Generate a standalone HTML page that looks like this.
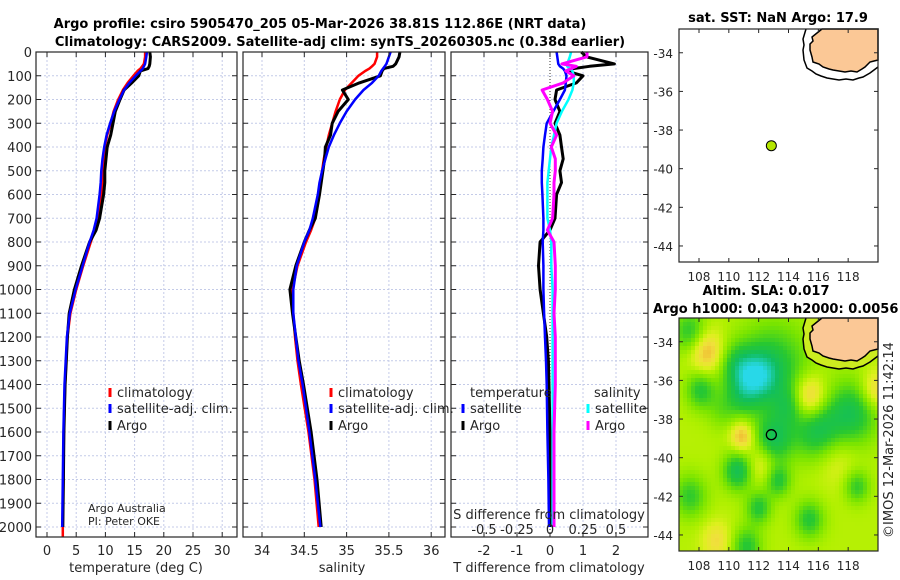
<!DOCTYPE html>
<html><head><meta charset="utf-8"><style>
html,body{margin:0;padding:0;background:#fff;width:900px;height:580px;overflow:hidden}
svg{display:block;font-family:"DejaVu Sans","Liberation Sans",sans-serif}
</style></head><body>
<svg id="c" width="900" height="580" viewBox="0 0 900 580" xmlns="http://www.w3.org/2000/svg"></svg>
<script>
// ---- profile data ----
const depths=[0,20,50,60,70,80,100,130,160,200,250,300,350,400,450,500,550,600,700,750,800,900,1000,1100,1200,1300,1400,1600,1800,2000];
const tempClim=[16.8,16.8,16.6,16.3,16.0,15.5,14.8,13.8,13.0,12.2,11.4,10.9,10.3,9.9,9.7,9.6,9.5,9.3,8.7,8.2,7.5,6.2,5.0,4.0,3.5,3.3,3.1,2.9,2.8,2.7];
const tempSat=[17.1,17.0,16.8,16.6,16.4,16.0,15.2,14.1,13.2,12.4,11.5,10.8,10.2,9.8,9.5,9.3,9.2,9.0,8.5,8.0,7.3,6.1,4.9,3.9,3.4,3.2,3.0,2.8,2.7,2.6];
const tempArgo=[17.6,17.7,17.6,17.5,17.3,16.0,15.7,14.5,13.2,12.5,11.7,11.3,10.9,10.3,10.1,9.9,9.9,9.7,9.0,8.4,7.3,5.9,4.7,3.8,3.5,3.3,3.1,2.9,2.8,2.7];
const salClim=[35.36,35.36,35.33,35.30,35.27,35.22,35.14,35.06,34.98,34.92,34.87,34.83,34.79,34.76,34.73,34.71,34.69,34.68,34.63,34.58,34.52,34.42,34.36,34.37,34.39,34.42,34.46,34.55,34.62,34.67];
const salSat=[35.52,35.50,35.47,35.45,35.43,35.41,35.38,35.30,35.20,35.10,35.00,34.92,34.85,34.79,34.75,34.71,34.68,34.66,34.60,34.56,34.50,34.41,34.37,34.37,34.40,34.43,34.48,34.56,34.63,34.69];
const salArgo=[35.63,35.62,35.58,35.55,35.44,35.42,35.40,35.15,34.95,35.02,34.90,34.83,34.81,34.75,34.74,34.72,34.70,34.68,34.63,34.56,34.50,34.40,34.33,34.36,34.40,34.44,34.49,34.58,34.65,34.70];
const tDiffSat=[0.2,0.22,0.25,0.3,0.4,0.45,0.5,0.48,0.45,0.3,0.1,-0.1,-0.15,-0.2,-0.22,-0.25,-0.25,-0.23,-0.2,-0.2,-0.22,-0.2,-0.2,-0.18,-0.15,-0.12,-0.1,-0.08,-0.05,-0.03];
const tDiffArgo=[0.95,1.1,1.95,1.2,0.7,0.5,1.0,0.8,0.2,0.15,0.3,0.15,0.3,0.35,0.4,0.3,0.35,0.2,0.15,0,-0.3,-0.35,-0.3,-0.2,-0.1,-0.05,-0.03,0,0,0];
const sDiffSat=[0.16,0.15,0.13,0.13,0.15,0.17,0.18,0.18,0.17,0.14,0.09,0.05,0.03,0.01,0,-0.01,-0.02,-0.02,-0.02,0,0.01,0.01,0.02,0.02,0.02,0.02,0.02,0.02,0.02,0.02];
const sDiffArgo=[0.28,0.28,0.09,0.2,0.16,0.12,0.18,0.1,-0.06,-0.02,0.02,0,0.05,0.01,0.04,0.04,0.03,0.03,0.02,-0.02,0.03,0.04,0.04,0.03,0.04,0.04,0.04,0.03,0.03,0.03];
const depthTicks=[0,100,200,300,400,500,600,700,800,900,1000,1100,1200,1300,1400,1500,1600,1700,1800,1900,2000];
const tempTicks=[0,5,10,15,20,25,30];
const salTicks=[34,34.5,35,35.5,36];
const salTickLabels=["34","34.5","35","35.5","36"];
const tDiffTicks=[-2,-1,0,1,2];
const sDiffTicks=[-0.5,-0.25,0,0.25,0.5];
const sDiffTickLabels=["-0.5","-0.25","0","0.25","0.5"];
// ---- map data ----
const argoLon=112.85, argoLat=-38.81;
const lonTicks=[108,110,112,114,116,118];
const latTicks=[-34,-36,-38,-40,-42,-44];
const slaLon=[111.9,113.0,107.4,108.5,115.4,118.3,115.9,113.0,110.9,110.6,113.3,108.1,107.4,115.4,118.6,112.2,109.2,111.2,119.8,112.0,110.5,117.2,110.8,114.0,109.5];
const slaLat=[-35.8,-35.4,-33.5,-34.5,-36.9,-37.7,-38.6,-39.1,-38.9,-40.7,-41.2,-36.5,-42.0,-43.2,-41.5,-40.3,-44.3,-44.6,-36.5,-42.6,-35.2,-40.0,-36.8,-37.3,-37.6];
const slaAmp=[-0.55,-0.55,-0.5,0.5,0.6,-0.6,-0.6,-0.6,0.5,-0.65,-0.5,-0.5,-0.45,-0.5,-0.45,0.3,0.3,-0.5,0.4,-0.5,-0.4,0.2,-0.35,-0.3,-0.2];
const slaSig=[0.9,1.7,0.8,0.8,0.8,1.2,1.1,0.9,0.55,0.7,0.6,0.7,0.8,0.7,0.6,0.7,0.7,0.7,0.7,0.6,0.8,1.0,0.8,0.7,0.7];

const svg=document.getElementById('c');
const NS='http://www.w3.org/2000/svg';
function el(tag,attrs,parent){const e=document.createElementNS(NS,tag);for(const k in attrs)e.setAttribute(k,attrs[k]);(parent||svg).appendChild(e);return e;}
function txt(x,y,s,attrs,parent){const t=el('text',Object.assign({x:x,y:y,'font-size':12,fill:'#262626'},attrs||{}),parent);t.textContent=s;return t;}

const Y0=52, YB=537;
function yD(d){return Y0+d*0.2375;}

function panel(name){
  const g=el('g',{});
  
  
  return g;
}
function grid(g,x0,x1,xs){
  xs.forEach(x=>{const l=el('line',{x1:x,x2:x,y1:Y0,y2:YB,stroke:'#c4cbe8','stroke-width':1,'stroke-dasharray':'2,2'},g);
    });
  depthTicks.forEach(d=>{const y=yD(d);const l=el('line',{x1:x0,x2:x1,y1:y,y2:y,stroke:'#c4cbe8','stroke-width':1,'stroke-dasharray':'2,2'},g);
    });
}
function frame(g,x0,x1,xs){
  depthTicks.forEach(d=>{const y=yD(d);
    el('line',{x1:x0,x2:x0+5,y1:y,y2:y,stroke:'#262626'},g);
    el('line',{x1:x1-5,x2:x1,y1:y,y2:y,stroke:'#262626'},g);});
  xs.forEach(x=>{el('line',{x1:x,x2:x,y1:YB,y2:YB-5,stroke:'#262626'},g);el('line',{x1:x,x2:x,y1:Y0,y2:Y0+5,stroke:'#262626'},g);});
  const r=el('rect',{x:x0,y:Y0,width:x1-x0,height:YB-Y0,fill:'none',stroke:'#262626','stroke-width':1.2},g);
  
}
function line(g,vals,xf,color,w,name,last){
  let d='';vals.forEach((v,i)=>{d+=(i?'L':'M')+xf(v).toFixed(1)+','+yD(depths[i]).toFixed(1);});
  if(last!==undefined) d+='L'+xf(vals[vals.length-1]).toFixed(1)+','+yD(last).toFixed(1);
  const p=el('path',{d:d,fill:'none',stroke:color,'stroke-width':w,'stroke-linejoin':'round'},g);
  
}
function legendItem(g,x,y,color,label,name){
  const m=el('line',{x1:x,x2:x,y1:y-9,y2:y,stroke:color,'stroke-width':3},g);
  
  const t=txt(x+7,y,label,{'font-size':13},g);
  
}

let t=txt(320,28,'Argo profile: csiro 5905470_205 05-Mar-2026 38.81S 112.86E (NRT data)',{'font-size':13,'font-weight':'bold','text-anchor':'middle',fill:'#000'});

t=txt(340,46,'Climatology: CARS2009. Satellite-adj clim: synTS_20260305.nc (0.38d earlier)',{'font-size':13,'font-weight':'bold','text-anchor':'middle',fill:'#000'});


// ---- Panel 1 ----
const P1x0=36,P1x1=237;
function xT(v){return 47+v*5.84;}
let g1=panel('temperature-panel');
const xs1=tempTicks.map(xT);
grid(g1,P1x0,P1x1,xs1);
line(g1,tempClim,xT,'#ff0000',2.5,'temperature-climatology-line',2040);
line(g1,tempArgo,xT,'#000000',3,'temperature-argo-line');
line(g1,tempSat,xT,'#0000ff',2.5,'temperature-satellite-line');
frame(g1,P1x0,P1x1,xs1);
depthTicks.forEach(d=>{const l=txt(32,yD(d)+5,String(d),{'text-anchor':'end','font-size':13},g1);
  });
tempTicks.forEach(v=>{const l=txt(xT(v),555,String(v),{'text-anchor':'middle','font-size':13},g1);
  });
t=txt(136,572,'temperature (deg C)',{'text-anchor':'middle','font-size':13},g1);
legendItem(g1,110,397,'#ff0000','climatology','legend-climatology');
legendItem(g1,110,413,'#0000ff','satellite-adj. clim.','legend-satellite-adj');
legendItem(g1,110,430,'#000000','Argo','legend-argo');
t=txt(88,512,'Argo Australia',{'font-size':11},g1);
t=txt(88,525,'PI: Peter OKE',{'font-size':11},g1);

// ---- Panel 2 ----
const P2x0=243,P2x1=445;
function xS(v){return 262+(v-34)*84.6;}
let g2=panel('salinity-panel');
const xs2=salTicks.map(xS);
grid(g2,P2x0,P2x1,xs2);
line(g2,salClim,xS,'#ff0000',2.5,'salinity-climatology-line');
line(g2,salArgo,xS,'#000000',3,'salinity-argo-line');
line(g2,salSat,xS,'#0000ff',2.5,'salinity-satellite-line');
frame(g2,P2x0,P2x1,xs2);
salTicks.forEach((v,i)=>{const l=txt(xS(v),555,salTickLabels[i],{'text-anchor':'middle','font-size':13},g2);
  });
t=txt(342,572,'salinity',{'text-anchor':'middle','font-size':13},g2);
legendItem(g2,331,397,'#ff0000','climatology','legend-climatology');
legendItem(g2,331,413,'#0000ff','satellite-adj. clim.','legend-satellite-adj');
legendItem(g2,331,430,'#000000','Argo','legend-argo');

// ---- Panel 3 ----
const P3x0=451,P3x1=648;
function xDT(v){return 550+v*33;}
function xDS(v){return 550+v*4*33;}
let g3=panel('difference-panel');
const xs3=tDiffTicks.filter(v=>v!==0).map(xDT);
grid(g3,P3x0,P3x1,xs3);
let z=el('line',{x1:xDT(0),x2:xDT(0),y1:Y0,y2:YB,stroke:'#333','stroke-width':1,'stroke-dasharray':'1,2'},g3);

line(g3,tDiffArgo,xDT,'#000000',3,'t-diff-argo-line');
line(g3,tDiffSat,xDT,'#0000ff',2.5,'t-diff-satellite-line');
line(g3,sDiffSat,xDS,'#00ffff',2.5,'s-diff-satellite-line');
line(g3,sDiffArgo,xDS,'#ff00ff',3,'s-diff-argo-line');
frame(g3,P3x0,P3x1,tDiffTicks.map(xDT));
tDiffTicks.forEach(v=>{const l=txt(xDT(v),555,String(v),{'text-anchor':'middle','font-size':13},g3);
  });
sDiffTicks.forEach((v,i)=>{const l=txt(xDS(v),534,sDiffTickLabels[i],{'text-anchor':'middle','font-size':13},g3);
  });
t=txt(549,519,'S difference from climatology',{'text-anchor':'middle','font-size':13},g3);
t=txt(549,572,'T difference from climatology',{'text-anchor':'middle','font-size':13},g3);
t=txt(470,397,'temperature',{'font-size':13},g3);
t=txt(594,397,'salinity',{'font-size':13},g3);
legendItem(g3,463,413,'#0000ff','satellite','legend-t-satellite');
legendItem(g3,463,430,'#000000','Argo','legend-t-argo');
legendItem(g3,588,413,'#00ffff','satellite','legend-s-satellite');
legendItem(g3,588,430,'#ff00ff','Argo','legend-s-argo');

// ---- Maps ----
const MX0=679,MX1=878,MW=199,MH=233;
const LON0=106.66,LON1=120.0,LAT0=-32.77,LAT1=-44.83;
function mx(lon){return MX0+(lon-LON0)/(LON1-LON0)*MW;}
function my(lat,y0){return y0+(lat-LAT0)/(LAT1-LAT0)*MH;}
const landIn=[[143,0],[138,4],[133,8],[134,12],[131,15],[131,21],[133,28],[134,33],[140,35],[144,38],[150,40],[154,41],[160,42],[166,43],[172,42],[178,43],[183,40],[186,38],[191,33],[195,32],[199,31],[199,0]];
const landOut=[[127,0],[124,10],[125,16],[124,21],[125,31],[128,39],[133,42],[137,45],[142,47],[148,49],[154,50],[160,51],[167,50],[174,51],[180,49],[184,48],[191,44],[195,41],[199,38]];
function pts(arr,y0){return arr.map(p=>(MX0+p[0])+','+(y0+p[1])).join(' ');}
function mapAxes(g,y0){
  lonTicks.forEach(v=>{const x=mx(v);el('line',{x1:x,x2:x,y1:y0+MH,y2:y0+MH-4,stroke:'#262626'},g);el('line',{x1:x,x2:x,y1:y0,y2:y0+4,stroke:'#262626'},g);
    const l=txt(x,y0+MH+19,String(v),{'text-anchor':'middle','font-size':12},g);});
  latTicks.forEach(v=>{const y=my(v,y0);el('line',{x1:MX0,x2:MX0+4,y1:y,y2:y,stroke:'#262626'},g);el('line',{x1:MX1-4,x2:MX1,y1:y,y2:y,stroke:'#262626'},g);
    const l=txt(673,y+5,String(v),{'text-anchor':'end','font-size':12},g);});
  const r=el('rect',{x:MX0,y:y0,width:MW,height:MH,fill:'none',stroke:'#262626','stroke-width':1.2},g);
  
}
function land(g,y0,fringe){
  if(fringe){const f=el('polygon',{points:pts(landOut,y0)+' '+(MX0+199)+','+y0,fill:fringe,stroke:'none'},g);}
  const o=el('polyline',{points:pts(landOut,y0),fill:'none',stroke:'#000','stroke-width':1.5},g);
  
  const p=el('polygon',{points:pts(landIn,y0),fill:'#fbc896',stroke:'#000','stroke-width':1.5},g);
  
}
const TY=29;
let gm1=el('g',{});
t=txt(778,22,'sat. SST: NaN Argo: 17.9',{'font-size':13,'font-weight':'bold','text-anchor':'middle',fill:'#000'},gm1);

land(gm1,TY,null);
let dot=el('circle',{cx:mx(argoLon),cy:my(argoLat,TY),r:5,fill:'#b4e600',stroke:'#000','stroke-width':1},gm1);

mapAxes(gm1,TY);

const BY=318;
let gm2=el('g',{});
t=txt(766,295,'Altim. SLA: 0.017',{'font-size':13,'font-weight':'bold','text-anchor':'middle',fill:'#000'},gm2);

t=txt(653,313,'Argo h1000: 0.043 h2000: 0.0056',{'font-size':13,'font-weight':'bold',fill:'#000'},gm2);

const stops=[[-1,[40,216,232]],[-0.7,[16,190,96]],[-0.45,[40,200,48]],[-0.2,[120,228,0]],[0,[176,240,0]],[0.15,[222,240,30]],[0.3,[240,224,60]],[0.5,[240,176,48]],[0.7,[240,140,30]]];
function cmap(v){v=Math.max(-1,Math.min(0.7,v));for(let i=1;i<stops.length;i++){if(v<=stops[i][0]){const a=stops[i-1],b=stops[i];const f=(v-a[0])/(b[0]-a[0]);return 'rgb('+a[1].map((c,k)=>Math.round(c+(b[1][k]-c)*f)).join(',')+')';}}return 'rgb(240,140,30)';}
const cell=4;
const hg=el('g',{},gm2);
for(let j=0;j<Math.ceil(MH/cell);j++){for(let i=0;i<Math.ceil(MW/cell);i++){
  const lon=LON0+(i+0.5)*cell/MW*(LON1-LON0), lat=LAT0+(j+0.5)*cell/MH*(LAT1-LAT0);
  let v=0.02;for(let k=0;k<slaLon.length;k++){const dx=lon-slaLon[k],dy=lat-slaLat[k];v+=slaAmp[k]*Math.exp(-(dx*dx+dy*dy)/(2*slaSig[k]*slaSig[k]));}
  const r=el('rect',{x:MX0+i*cell,y:BY+j*cell,width:Math.min(cell,MW-i*cell),height:Math.min(cell,MH-j*cell),fill:cmap(v)},hg);
  
}}
land(gm2,BY,'#ccec20');
dot=el('circle',{cx:mx(argoLon),cy:my(argoLat,BY),r:5,fill:'none',stroke:'#000','stroke-width':1.3},gm2);

mapAxes(gm2,BY);
t=txt(0,0,'©IMOS 12-Mar-2026 11:42:14',{'font-size':13,'text-anchor':'middle',transform:'translate(893,440) rotate(-90)'});

</script>
</body></html>
